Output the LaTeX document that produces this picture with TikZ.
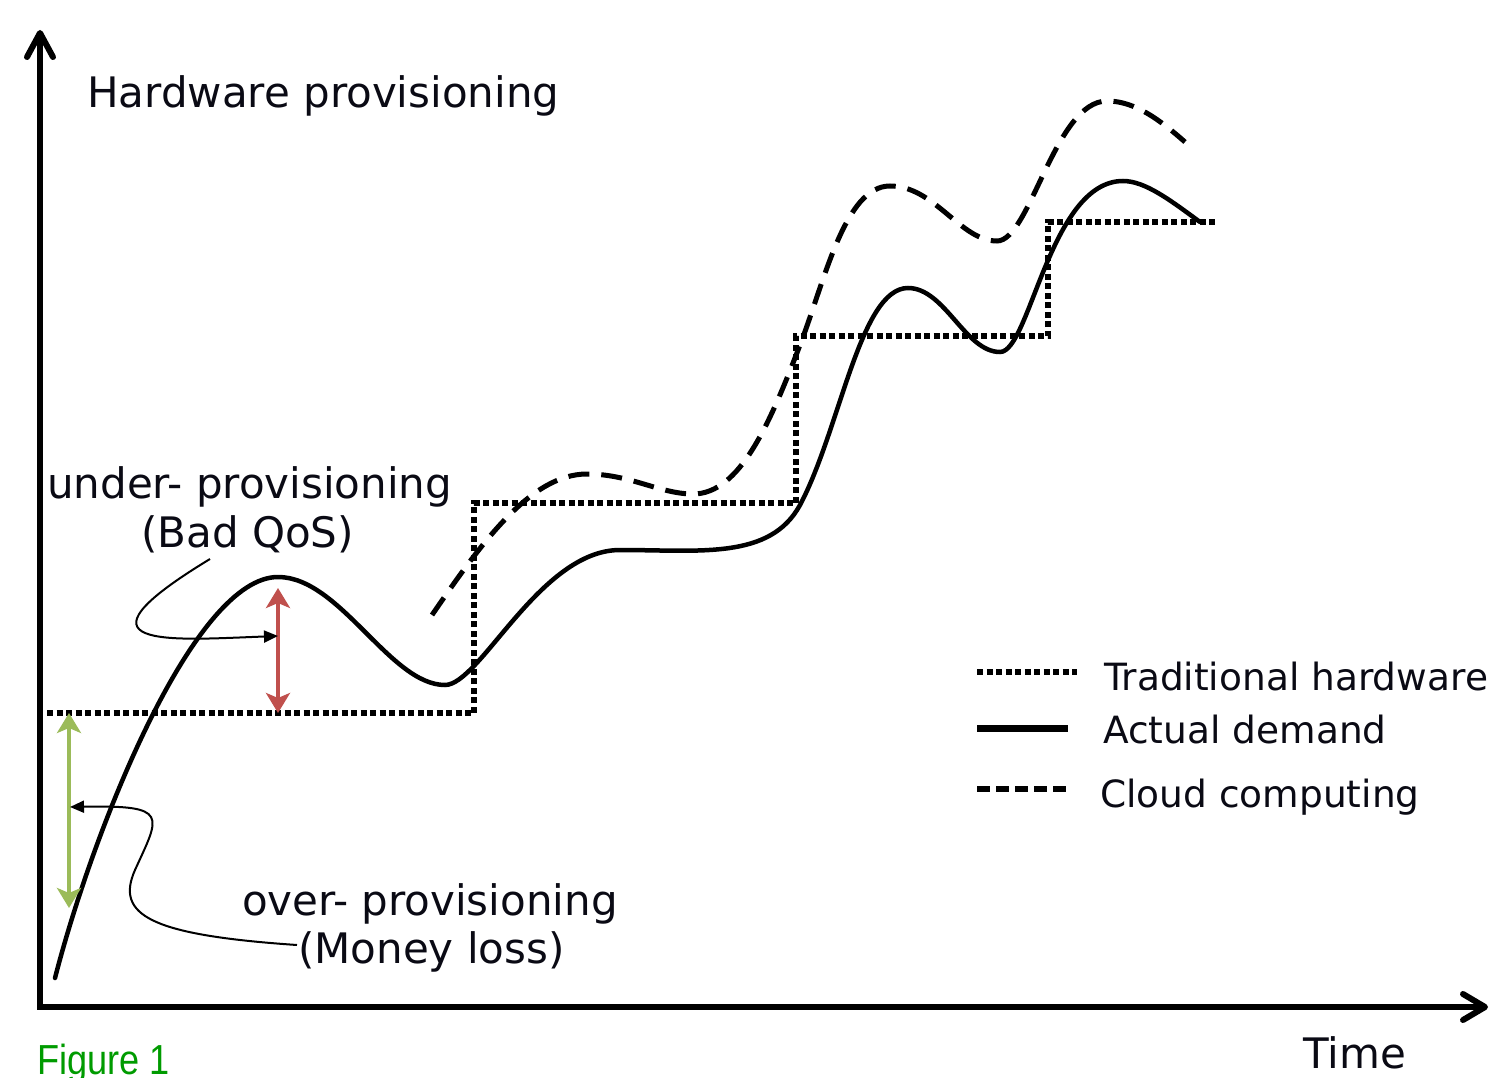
\documentclass[tikz,border=0pt]{standalone}
\usepackage{fontspec}
\setmainfont{DejaVu Sans}
\newfontfamily\figfont{Liberation Sans}
\usetikzlibrary{arrows.meta}
\definecolor{qosred}{RGB}{192,80,77}
\definecolor{lossgreen}{RGB}{155,187,89}
\definecolor{figgreen}{RGB}{0,155,0}
\definecolor{ink}{RGB}{10,10,20}

\begin{document}
\begin{tikzpicture}[x=1pt,y=-1pt,
  lbl/.style={inner sep=0pt, anchor=base west, text=ink, font=\fontsize{42}{50}\selectfont},
  legendlbl/.style={inner sep=0pt, anchor=base west, text=ink, font=\fontsize{37.5}{45}\selectfont},
  axisline/.style={line width=6pt, line join=miter},
  tradline/.style={line width=5.5pt, dash pattern=on 6pt off 3.5pt},
  demandline/.style={line width=4.5pt, line cap=round},
  cloudline/.style={line width=5pt, dash pattern=on 21pt off 12pt},
  gaparrow/.style={line width=4.5pt, {Stealth[length=20pt,width=24pt,inset=5pt]}-{Stealth[length=20pt,width=24pt,inset=5pt]}},
  pointer/.style={line width=2pt, -{Triangle[length=14pt,width=12pt]}}
]
\useasboundingbox (0,0) rectangle (1493,1078);

% axes
\coordinate (ytip) at (40,30);
\coordinate (orig) at (40,1007);
\coordinate (xtip) at (1488,1007);
\draw[axisline, {Straight Barb[length=24pt,width=26pt,round]}-{Straight Barb[length=22pt,width=26pt,round]}]
  (ytip) -- (orig) -- (xtip);

% traditional hardware: stepwise capacity
\draw[tradline] (47,713) -- (474,713) -- (474,503) -- (796,503) -- (796,336)
  -- (1048,336) -- (1048,222) -- (1215,222);

% actual demand
\draw[demandline] (55,978)
  .. controls (95,823) and (195,577) .. (278,577)
  .. controls (340,577) and (390,685) .. (445,685)
  .. controls (480,685) and (540,550) .. (620,550)
  .. controls (700,550) and (770,560) .. (800,505)
  .. controls (840,430) and (860,288) .. (908,288)
  .. controls (945,288) and (965,352) .. (1000,352)
  .. controls (1030,352) and (1050,181) .. (1123,181)
  .. controls (1145,181) and (1170,200) .. (1200,222);

% cloud computing
\draw[cloudline] (432,615)
  .. controls (480,545) and (530,474) .. (587,474)
  .. controls (630,474) and (660,494) .. (693,494)
  .. controls (740,494) and (770,423) .. (800,345)
  .. controls (825,280) and (845,186) .. (890,186)
  .. controls (935,186) and (960,241) .. (997,241)
  .. controls (1030,241) and (1055,101) .. (1107,101)
  .. controls (1135,101) and (1160,120) .. (1185,142);

% gap markers
\coordinate (qosTop) at (278,588);
\coordinate (qosBot) at (278,713);
\draw[gaparrow, qosred] (qosTop) -- (qosBot);
\coordinate (lossTop) at (69,713);
\coordinate (lossBot) at (69,908);
\draw[gaparrow, lossgreen] (lossTop) -- (lossBot);

% labels
\node[lbl] (ylabel) at (87,108) {Hardware provisioning};
\node[lbl] (under) at (47,498) {under- provisioning};
\node[lbl] (badqos) at (141,547) {(Bad QoS)};
\node[lbl] (over) at (242,915) {over- provisioning};
\node[lbl] (money) at (298,963) {(Money loss)};
\node[lbl] (time) at (1303,1068) {Time};
\node[inner sep=0pt, anchor=base west, text=figgreen,
  font=\figfont\fontsize{42}{50}\selectfont] (fig) at (37,1074)
  {\scalebox{0.86}[1]{Figure 1}};

% pointers from the labels to the gap markers
\coordinate (qosTail) at (210,559);
\coordinate (qosHit) at (278,636);
\draw[pointer] (qosTail) .. controls (60,650) and (170,640) .. (qosHit);
\coordinate (lossTail) at (297,945);
\coordinate (lossBend) at (135,870);
\coordinate (lossHit) at (70,807);
\draw[pointer] (lossTail) .. controls (150,935) and (115,915) .. (lossBend)
  .. controls (160,815) and (170,805) .. (lossHit);

% legend
\draw[tradline] (977,672) -- (1077,672);
\draw[line width=7pt] (977,728) -- (1068,728);
\draw[line width=6pt, dash pattern=on 13pt off 6pt] (977,789) -- (1066,789);
\node[legendlbl] (legTrad) at (1104,690) {Traditional hardware};
\node[legendlbl] (legDemand) at (1103,743) {Actual demand};
\node[legendlbl] (legCloud) at (1100,807) {Cloud computing};
\end{tikzpicture}
\end{document}
